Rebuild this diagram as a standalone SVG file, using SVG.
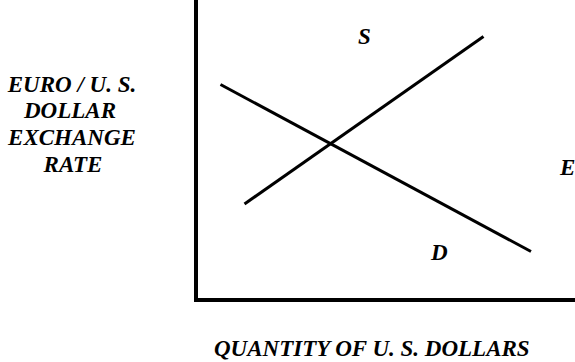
<svg xmlns="http://www.w3.org/2000/svg" width="575" height="362" viewBox="0 0 575 362">
<style>
text{font-family:"Liberation Serif","Times New Roman",serif;font-weight:bold;font-style:italic;font-size:23px;fill:#000}
.ax{stroke:#000;stroke-width:4;fill:none}
.cv{stroke:#000;stroke-width:3;fill:none}
</style>
<rect width="575" height="362" fill="#fff"/>
<g id="axes">
<polyline class="ax" points="196,0 196,300 575,300"/>
</g>
<g id="connectors">
<line id="supply" class="cv" x1="244.5" y1="204" x2="483.5" y2="36.5"/>
<line id="demand" class="cv" x1="220.5" y1="84.5" x2="531" y2="251.5"/>
</g>
<g id="label-s"><text x="358" y="44">S</text></g>
<g id="label-d"><text x="431" y="260">D</text></g>
<g id="y-label">
<text text-anchor="middle" x="72" y="92">EURO / U. S.</text>
<text text-anchor="middle" x="70" y="118">DOLLAR</text>
<text text-anchor="middle" x="72" y="145">EXCHANGE</text>
<text text-anchor="middle" x="73" y="172">RATE</text>
</g>
<g id="x-label"><text x="214" y="356">QUANTITY OF U. S. DOLLARS</text></g>
<g id="right-label"><text x="560" y="175">E</text></g>
</svg>
